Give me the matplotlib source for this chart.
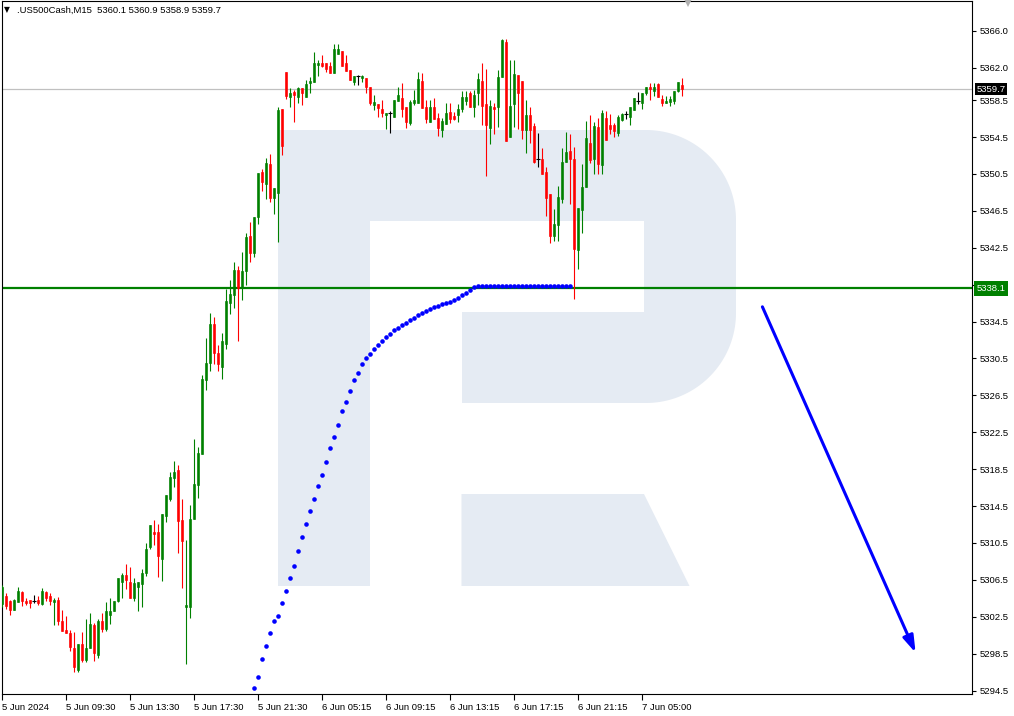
import numpy as np
import matplotlib
matplotlib.use("Agg")
import matplotlib.pyplot as plt
from matplotlib.patches import Polygon, FancyArrowPatch
from matplotlib.transforms import Affine2D, blended_transform_factory

# ---------------- data ----------------
symbol_line = ".US500Cash,M15  5360.1 5360.9 5358.9 5359.7"

opens = [5303.9, 5304.80, 5304.19, 5303.22, 5304.07, 5305.16, 5304.26, 5304.37, 5304.26, 5304.37,
         5303.86, 5305.16, 5304.70, 5304.12, 5304.37, 5302.09, 5301.11, 5300.71, 5299.16, 5296.70,
         5299.59, 5297.79, 5299.09, 5301.66, 5298.37, 5302.09, 5301.22, 5302.71, 5303.09, 5304.26,
         5306.25, 5307.08, 5306.32, 5304.51, 5305.70, 5306.00, 5307.22, 5310.05, 5311.67, 5311.64,
         5308.74, 5313.41, 5315.22, 5317.50, 5318.37, 5312.94, 5303.54, 5303.54, 5313.09, 5316.77,
         5320.14, 5328.17, 5330.01, 5334.21, 5331.06, 5329.58, 5332.07, 5336.52, 5337.39, 5340.07,
         5338.15, 5339.99, 5343.76, 5341.95, 5345.85, 5350.70, 5349.40, 5351.57, 5347.91, 5348.45,
         5357.50, 5361.55, 5358.81, 5359.35, 5358.87, 5359.78, 5358.87, 5360.39, 5360.50, 5362.34,
         5362.49, 5362.49, 5362.24, 5361.47, 5363.50, 5363.86, 5362.53, 5361.77, 5360.50, 5361.12,
         5360.93, 5360.87, 5359.96, 5357.97, 5358.08, 5357.54, 5356.89, 5357.13, 5356.70, 5358.44,
         5358.76, 5357.72, 5356.05, 5358.22, 5358.22, 5360.61, 5357.72, 5356.09, 5357.72, 5356.53,
         5355.23, 5355.91, 5357.18, 5356.78, 5356.85, 5357.54, 5358.44, 5359.31, 5357.79, 5359.31,
         5360.57, 5358.08, 5355.51, 5357.79, 5357.79, 5361.04, 5364.81, 5354.53, 5358.08, 5361.23,
         5360.57, 5355.26, 5356.89, 5355.69, 5352.08, 5352.08, 5350.70, 5348.31, 5343.79, 5344.95,
         5347.80, 5351.82, 5352.98, 5352.08, 5342.24, 5346.58, 5349.11, 5353.88, 5352.08, 5355.62,
         5351.46, 5356.53, 5355.80, 5355.80, 5354.90, 5356.34, 5356.99, 5356.70, 5357.43, 5358.44,
         5358.22, 5359.24, 5359.89, 5359.52, 5360.21, 5358.62, 5358.15, 5358.33, 5358.44, 5359.52,
         5360.1]
highs = [5305.9, 5305.13, 5304.37, 5304.40, 5305.70, 5305.34, 5304.59, 5304.37, 5304.91, 5304.80,
         5305.67, 5305.34, 5305.13, 5304.59, 5304.62, 5303.28, 5302.63, 5301.11, 5300.82, 5299.59,
         5300.82, 5302.31, 5302.89, 5301.88, 5302.31, 5302.89, 5304.15, 5304.51, 5304.19, 5306.65,
         5307.30, 5308.17, 5307.88, 5306.65, 5306.32, 5307.63, 5310.45, 5312.40, 5312.94, 5312.51,
         5313.67, 5315.66, 5318.15, 5319.34, 5318.91, 5315.22, 5310.77, 5314.57, 5321.81, 5320.86,
         5328.67, 5332.69, 5335.40, 5334.97, 5331.93, 5333.23, 5338.00, 5338.98, 5340.93, 5340.50,
         5342.05, 5344.08, 5345.28, 5345.85, 5350.59, 5351.06, 5352.19, 5352.62, 5348.93, 5357.72,
         5357.50, 5361.55, 5359.78, 5359.60, 5359.96, 5359.78, 5360.68, 5361.04, 5363.69, 5362.85,
         5363.40, 5362.49, 5362.60, 5364.59, 5364.59, 5363.86, 5363.40, 5361.77, 5361.12, 5361.23,
         5361.23, 5360.87, 5359.96, 5359.06, 5358.08, 5358.51, 5357.13, 5357.30, 5358.51, 5359.89,
         5360.32, 5357.72, 5358.51, 5359.60, 5361.58, 5361.47, 5358.51, 5358.51, 5358.70, 5357.07,
         5356.53, 5358.22, 5358.22, 5357.24, 5358.08, 5359.49, 5359.49, 5359.52, 5359.60, 5361.41,
         5362.56, 5361.84, 5358.51, 5358.22, 5361.77, 5365.13, 5365.13, 5362.85, 5362.85, 5361.23,
         5360.57, 5358.51, 5357.72, 5356.05, 5354.90, 5353.27, 5351.28, 5348.31, 5346.69, 5349.18,
         5353.27, 5355.04, 5354.79, 5353.38, 5346.76, 5351.57, 5356.27, 5356.89, 5356.16, 5356.53,
         5357.43, 5357.35, 5356.99, 5355.98, 5356.89, 5357.13, 5357.35, 5357.72, 5358.70, 5359.41,
         5359.30, 5359.89, 5360.39, 5360.39, 5360.39, 5359.06, 5358.94, 5358.94, 5359.49, 5360.43,
         5360.9]
lows = [5303.6, 5303.29, 5302.74, 5303.20, 5304.07, 5303.72, 5303.75, 5303.42, 5304.04, 5303.75,
        5303.75, 5304.26, 5303.83, 5301.58, 5301.58, 5301.00, 5300.71, 5298.76, 5296.48, 5296.48,
        5297.57, 5297.57, 5299.09, 5297.75, 5298.00, 5300.82, 5300.93, 5301.73, 5303.09, 5304.07,
        5304.51, 5305.53, 5304.51, 5304.19, 5303.10, 5303.54, 5306.97, 5309.80, 5310.23, 5306.79,
        5306.43, 5312.76, 5315.03, 5316.56, 5309.39, 5305.60, 5297.43, 5302.35, 5313.09, 5315.36,
        5320.14, 5327.08, 5329.14, 5329.87, 5329.14, 5328.27, 5331.53, 5335.33, 5335.98, 5332.40,
        5336.89, 5338.44, 5340.97, 5341.51, 5345.03, 5348.67, 5347.74, 5347.48, 5346.14, 5343.14,
        5352.55, 5358.62, 5357.72, 5356.16, 5358.22, 5357.97, 5358.87, 5359.24, 5360.50, 5361.15,
        5362.06, 5361.58, 5361.47, 5361.47, 5363.50, 5362.20, 5361.69, 5360.68, 5360.14, 5360.14,
        5360.50, 5359.24, 5357.97, 5357.43, 5356.70, 5356.70, 5355.37, 5354.96, 5356.70, 5358.44,
        5356.64, 5355.51, 5355.77, 5357.97, 5358.22, 5357.61, 5355.98, 5356.09, 5356.48, 5354.61,
        5354.53, 5355.91, 5355.98, 5356.34, 5356.16, 5357.18, 5357.97, 5357.79, 5356.70, 5357.97,
        5355.80, 5350.30, 5353.74, 5354.79, 5355.62, 5361.04, 5354.10, 5354.53, 5355.62, 5355.33,
        5354.28, 5352.80, 5353.82, 5351.71, 5351.28, 5350.49, 5345.93, 5343.03, 5343.25, 5343.25,
        5347.30, 5351.82, 5347.23, 5336.92, 5340.15, 5344.05, 5349.11, 5351.65, 5350.49, 5350.49,
        5350.49, 5354.17, 5354.79, 5354.53, 5354.61, 5356.27, 5356.42, 5355.80, 5357.43, 5358.08,
        5357.57, 5359.02, 5358.51, 5358.94, 5358.87, 5357.86, 5358.15, 5357.86, 5358.08, 5359.41,
        5358.9]
closes = [5305.7, 5303.72, 5303.26, 5304.37, 5305.34, 5304.26, 5304.04, 5304.04, 5304.26, 5304.04,
          5305.34, 5304.51, 5304.26, 5304.37, 5302.02, 5301.00, 5300.71, 5299.20, 5297.02, 5299.59,
          5297.79, 5299.16, 5301.77, 5298.55, 5302.09, 5301.19, 5303.17, 5303.17, 5304.19, 5306.65,
          5307.08, 5306.54, 5304.51, 5306.14, 5306.32, 5307.30, 5309.90, 5312.40, 5311.45, 5309.04,
          5313.67, 5315.66, 5317.61, 5318.15, 5312.87, 5310.70, 5303.83, 5313.13, 5316.85, 5320.21,
          5328.24, 5329.98, 5334.21, 5331.09, 5329.90, 5332.36, 5336.70, 5337.50, 5340.07, 5338.19,
          5339.96, 5343.68, 5341.88, 5345.85, 5350.56, 5349.62, 5351.65, 5347.91, 5348.93, 5357.43,
          5353.52, 5358.98, 5359.24, 5359.06, 5359.78, 5359.24, 5360.25, 5360.61, 5362.56, 5362.56,
          5362.24, 5361.84, 5361.47, 5364.05, 5364.05, 5362.20, 5361.69, 5360.68, 5361.12, 5361.12,
          5361.12, 5359.96, 5358.22, 5358.33, 5357.68, 5357.07, 5357.13, 5357.13, 5358.51, 5359.06,
          5357.54, 5356.16, 5358.30, 5358.51, 5360.76, 5357.61, 5356.48, 5357.72, 5356.48, 5355.44,
          5356.27, 5357.07, 5356.45, 5356.45, 5357.50, 5358.87, 5358.87, 5357.79, 5359.06, 5360.76,
          5357.86, 5355.80, 5357.86, 5357.57, 5361.04, 5365.02, 5354.10, 5357.86, 5361.33, 5359.31,
          5355.26, 5356.89, 5355.26, 5351.82, 5352.08, 5350.49, 5347.91, 5343.79, 5345.06, 5348.02,
          5351.79, 5352.87, 5352.08, 5342.42, 5346.76, 5349.04, 5354.36, 5352.00, 5355.69, 5351.57,
          5357.07, 5354.17, 5355.33, 5355.18, 5356.64, 5356.99, 5356.99, 5357.72, 5358.70, 5358.44,
          5359.24, 5359.89, 5359.74, 5359.89, 5358.87, 5358.22, 5358.44, 5358.59, 5359.49, 5360.43,
          5359.7]

# dotted indicator (one value per bar, starting at bar 63)
indicator_first_bar = 63
indicator = [5294.79, 5295.94, 5297.89, 5299.30, 5300.71, 5302.01, 5302.56, 5303.97, 5305.27, 5306.68,
             5307.98, 5309.61, 5311.13, 5312.54, 5313.92, 5315.25, 5316.63, 5317.82, 5319.27, 5320.78,
             5321.98, 5323.28, 5324.77, 5325.78, 5326.97, 5328.16, 5328.92, 5329.87, 5330.55, 5331.03,
             5331.57, 5331.96, 5332.39, 5332.83, 5333.15, 5333.59, 5333.85, 5334.13, 5334.39, 5334.64,
             5334.89, 5335.18, 5335.43, 5335.65, 5335.87, 5336.08, 5336.16, 5336.38, 5336.52, 5336.63,
             5336.81, 5337.10, 5337.35, 5337.60, 5337.97, 5338.25, 5338.36, 5338.36, 5338.36, 5338.36,
             5338.36, 5338.36, 5338.36, 5338.36, 5338.36, 5338.36, 5338.36, 5338.36, 5338.36, 5338.36,
             5338.36, 5338.36, 5338.36, 5338.36, 5338.36, 5338.36, 5338.36, 5338.36, 5338.36, 5338.36]

x_tick_bars = [0, 16, 32, 48, 64, 80, 96, 112, 128, 144, 160]
x_tick_labels = ["5 Jun 2024", "5 Jun 09:30", "5 Jun 13:30", "5 Jun 17:30", "5 Jun 21:30",
                 "6 Jun 05:15", "6 Jun 09:15", "6 Jun 13:15", "6 Jun 17:15", "6 Jun 21:15",
                 "7 Jun 05:00"]
y_ticks = [5294.5, 5298.5, 5302.5, 5306.5, 5310.5, 5314.5, 5318.5, 5322.5, 5326.5, 5330.5,
           5334.5, 5338.5, 5342.5, 5346.5, 5350.5, 5354.5, 5358.5, 5362.0, 5366.0]

support_level = 5338.1
last_price = 5359.7
forecast_start = (190.1, 5336.1)   # (bar, price)
forecast_end = (228.4, 5298.6)

# ---------------- figure ----------------
W, H = 1014, 716
FONT = ["Liberation Sans", "DejaVu Sans"]
plt.rcParams["font.family"] = FONT
fig = plt.figure(figsize=(W / 100, H / 100), dpi=100, facecolor="white")
ax_left, ax_right, ax_top, ax_bottom = 1.5, 972, 1, 694
ax = fig.add_axes([ax_left / W, (H - ax_bottom) / H, (ax_right - ax_left) / W, (ax_bottom - ax_top) / H])
ax.set_facecolor("white")

px_per_bar = 4.0
x0 = -(2 - ax_left) / px_per_bar
ax.set_xlim(x0, x0 + (ax_right - ax_left) / px_per_bar)
ax.set_ylim(5294.13, 5369.25)

# watermark logo (figure-pixel coordinates, y downwards)
wm = Affine2D().scale(1, -1).translate(0, H)
wm_color = "#E5EBF3"


def arc(cx, cy, r, a0, a1, n=40):
    t = np.radians(np.linspace(a0, a1, n))
    return np.column_stack([cx + r * np.cos(t), cy + r * np.sin(t)])


shapes = [
    np.array([[278, 130], [370, 130], [370, 586], [278, 586]]),
    np.array([[369, 130], [647, 130], [647, 221], [369, 221]]),
    np.array([[461.5, 312], [647, 312], [647, 403], [461.5, 403]]),
    np.array([[461.5, 494], [644, 494], [689.5, 586], [461.5, 586]]),
    np.vstack([[[644, 130]], arc(646, 220, 90, -90, 0), arc(646, 313, 90, 0, 90), [[644, 403]]]),
]
for s in shapes:
    ax.add_patch(Polygon(s, closed=True, facecolor=wm_color, edgecolor="none",
                         transform=wm, zorder=0.2))

# horizontal lines
ax.axhline(last_price, color="#C0C0C0", lw=0.9, zorder=1)
ax.axhline(support_level, color="#008000", lw=1.6, zorder=2)

# candles
o = np.array(opens); h = np.array(highs); l = np.array(lows); c = np.array(closes)
x = np.arange(len(o))
cols = np.where(c > o, "#008000", np.where(c < o, "#FF0000", "#000000"))
ax.vlines(x, l, h, colors=cols, linewidth=0.8, zorder=3)
body = c != o
ax.bar(x[body], np.abs(c - o)[body], bottom=np.minimum(o, c)[body], width=0.58,
       color=cols[body], edgecolor=cols[body], linewidth=0.45, zorder=3)
doji = ~body
ax.hlines(c[doji], x[doji] - 0.38, x[doji] + 0.38, colors="#000000", linewidth=0.8, zorder=3)

# dotted indicator
xi = np.arange(indicator_first_bar, indicator_first_bar + len(indicator))
ax.plot(xi, indicator, linestyle="none", marker="o", markersize=3.3, color="#0000FF",
        markeredgewidth=0, zorder=4)

# forecast arrow
ax.add_patch(FancyArrowPatch(forecast_start, forecast_end,
                             arrowstyle="-|>,head_length=10,head_width=3.2",
                             mutation_scale=1, color="#0000FF", lw=2.2,
                             shrinkA=0, shrinkB=0, zorder=5))

# axes styling
for sp in ax.spines.values():
    sp.set_color("black")
    sp.set_linewidth(0.8)
ax.yaxis.tick_right()
ax.set_yticks(y_ticks)
ax.set_yticklabels([f"{v:.1f}" for v in y_ticks])
ax.tick_params(axis="y", direction="out", length=3, width=0.8, pad=2.5, labelsize=6.8,
               colors="black")
ax.set_xticks(x_tick_bars)
ax.set_xticklabels(x_tick_labels, ha="left")
ax.tick_params(axis="x", direction="out", length=4, width=0.8, pad=2.5, labelsize=6.8,
               colors="black")

# price tags on the right axis
bt = blended_transform_factory(ax.transAxes, ax.transData)
tag_x = 1 + 4.5 / (ax_right - ax_left)
ax.text(tag_x, last_price, f"{last_price:.1f}", transform=bt, ha="left", va="center",
        fontsize=6.8, color="white", zorder=10, clip_on=False,
        bbox=dict(boxstyle="square,pad=0.18", fc="black", ec="none"))
ax.text(tag_x, support_level, f"{support_level:.1f}", transform=bt, ha="left", va="center",
        fontsize=6.8, color="white", zorder=10, clip_on=False,
        bbox=dict(boxstyle="square,pad=0.3", fc="#008000", ec="none"))

# chart shift marker
ax.plot([171.5], [5369.0], marker="v", markersize=6, color="#B0B0B0", markeredgewidth=0,
        clip_on=False, zorder=6)

# header
fig.text(4 / W, 1 - 10 / H, "▼", fontsize=5.5, va="center", ha="left", color="black",
         family=["DejaVu Sans"])
fig.text(17 / W, 1 - 10 / H, symbol_line, fontsize=6.8, va="center", ha="left", color="black")

fig.savefig("out.png", dpi=100, facecolor="white")
